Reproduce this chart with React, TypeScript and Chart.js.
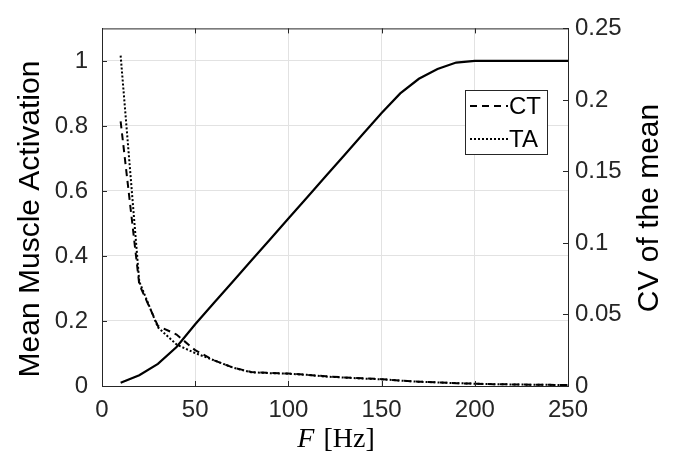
import React, { useEffect, useRef } from "react";
import { Chart, registerables } from "chart.js";

Chart.register(...registerables);

const frequencies = [10, 20, 30, 40, 50, 60, 70, 80, 90, 100, 110, 120, 130, 140, 150, 160, 170, 180, 190, 200, 210, 220, 230, 240, 250];
const meanActivation = [0.01, 0.033, 0.068, 0.12, 0.19, 0.255, 0.32, 0.385, 0.45, 0.515, 0.58, 0.645, 0.71, 0.775, 0.84, 0.9, 0.945, 0.975, 0.995, 1, 1, 1, 1, 1, 1];
const cvCT = [0.185, 0.071, 0.042, 0.036, 0.025, 0.018, 0.013, 0.0098, 0.0092, 0.0087, 0.0078, 0.0068, 0.006, 0.0054, 0.0048, 0.0038, 0.003, 0.0025, 0.002, 0.0016, 0.0013, 0.0011, 0.0009, 0.0008, 0.0007];
const cvTA = [0.231, 0.073, 0.041, 0.029, 0.023, 0.018, 0.013, 0.0096, 0.009, 0.0086, 0.0078, 0.0066, 0.0059, 0.0052, 0.0047, 0.0038, 0.003, 0.0025, 0.002, 0.0016, 0.0013, 0.0011, 0.0009, 0.0008, 0.0006];

const xTicks = [0, 50, 100, 150, 200, 250];
const leftTicks = [0, 0.2, 0.4, 0.6, 0.8, 1];
const rightTicks = [0, 0.05, 0.1, 0.15, 0.2, 0.25];
const leftLabels = ["0", "0.2", "0.4", "0.6", "0.8", "1"];
const rightLabels = ["0", "0.05", "0.1", "0.15", "0.2", "0.25"];

const seriesNames = ["Mean", "CT", "TA"];
const leftTitle = "Mean Muscle Activation";
const rightTitle = "CV of the mean";
const xTitleItalic = "F";
const xTitleRest = " [Hz]";

const AXIS = "#262626";
const GRID = "#e2e2e2";
const SANS = "'Liberation Sans', Arial, Helvetica, sans-serif";
const SERIF = "'Liberation Serif', 'Times New Roman', serif";

const decorPlugin = {
  id: "decor",
  afterDraw(chart: any) {
    const ctx = chart.ctx as CanvasRenderingContext2D;
    const area = chart.chartArea;
    const xs = chart.scales.x;
    const yl = chart.scales.yL;
    const yr = chart.scales.yR;
    ctx.save();
    // top border
    ctx.strokeStyle = AXIS;
    ctx.lineWidth = 1;
    ctx.beginPath();
    ctx.moveTo(area.left, area.top + 0.5);
    ctx.lineTo(area.right, area.top + 0.5);
    ctx.stroke();
    // inner ticks
    const tl = 5;
    ctx.beginPath();
    xTicks.forEach((v) => {
      const px = Math.round(xs.getPixelForValue(v)) + 0.5;
      ctx.moveTo(px, area.bottom);
      ctx.lineTo(px, area.bottom - tl);
      ctx.moveTo(px, area.top);
      ctx.lineTo(px, area.top + tl);
    });
    leftTicks.forEach((v) => {
      const py = Math.round(yl.getPixelForValue(v)) + 0.5;
      ctx.moveTo(area.left, py);
      ctx.lineTo(area.left + tl, py);
    });
    rightTicks.forEach((v) => {
      const py = Math.round(yr.getPixelForValue(v)) + 0.5;
      ctx.moveTo(area.right, py);
      ctx.lineTo(area.right - tl, py);
    });
    ctx.stroke();

    // legend
    const bx = 465.5, by = 90.5, bw = 82, bh = 64;
    ctx.fillStyle = "#ffffff";
    ctx.fillRect(bx, by, bw, bh);
    ctx.strokeStyle = AXIS;
    ctx.lineWidth = 1;
    ctx.strokeRect(bx, by, bw, bh);
    ctx.strokeStyle = "#000000";
    ctx.lineWidth = 2;
    ctx.setLineDash([7, 5]);
    ctx.beginPath();
    ctx.moveTo(470, 106);
    ctx.lineTo(508, 106);
    ctx.stroke();
    ctx.setLineDash([2, 2]);
    ctx.beginPath();
    ctx.moveTo(470, 139);
    ctx.lineTo(508, 139);
    ctx.stroke();
    ctx.setLineDash([]);
    ctx.fillStyle = "#000000";
    ctx.font = `24px ${SANS}`;
    ctx.textAlign = "left";
    ctx.textBaseline = "middle";
    ctx.fillText(seriesNames[1], 509, 107);
    ctx.fillText(seriesNames[2], 509, 140);

    // y titles
    ctx.font = `30px ${SANS}`;
    ctx.textAlign = "center";
    ctx.textBaseline = "middle";
    ctx.save();
    ctx.translate(31, 219);
    ctx.rotate(-Math.PI / 2);
    ctx.fillText(leftTitle, 0, 0);
    ctx.restore();
    ctx.save();
    ctx.translate(650, 208);
    ctx.rotate(-Math.PI / 2);
    ctx.fillText(rightTitle, 0, 0);
    ctx.restore();

    // x title
    ctx.textBaseline = "alphabetic";
    ctx.textAlign = "left";
    const fItal = `italic 28px ${SERIF}`;
    const fRom = `28px ${SERIF}`;
    ctx.font = fItal;
    const w1 = ctx.measureText(xTitleItalic).width;
    ctx.font = fRom;
    const w2 = ctx.measureText(xTitleRest).width;
    const cx = (area.left + area.right) / 2;
    const sx = cx - (w1 + w2) / 2;
    ctx.font = fItal;
    ctx.fillText(xTitleItalic, sx, 447);
    ctx.font = fRom;
    ctx.fillText(xTitleRest, sx + w1 + 2, 447);
    ctx.restore();
  },
};

export default function App() {
  const ref = useRef<HTMLCanvasElement | null>(null);
  useEffect(() => {
    if (!ref.current) return;
    const tickFont = { family: SANS, size: 24 };
    const chart = new Chart(ref.current, {
      type: "line",
      data: {
        datasets: [
          {
            label: seriesNames[0],
            data: frequencies.map((f, i) => ({ x: f, y: meanActivation[i] })),
            yAxisID: "yL",
            borderColor: "#000000",
            borderWidth: 2.2,
            pointRadius: 0,
            tension: 0,
          },
          {
            label: seriesNames[1],
            data: frequencies.map((f, i) => ({ x: f, y: cvCT[i] })),
            yAxisID: "yR",
            borderColor: "#000000",
            borderWidth: 2,
            borderDash: [7, 5],
            pointRadius: 0,
            tension: 0,
          },
          {
            label: seriesNames[2],
            data: frequencies.map((f, i) => ({ x: f, y: cvTA[i] })),
            yAxisID: "yR",
            borderColor: "#000000",
            borderWidth: 2,
            borderDash: [2, 2],
            pointRadius: 0,
            tension: 0,
          },
        ],
      },
      options: {
        responsive: false,
        animation: false,
        layout: { padding: { top: 19, left: 0, right: 0, bottom: 0 } },
        plugins: { legend: { display: false }, tooltip: { enabled: false } },
        scales: {
          x: {
            type: "linear",
            min: 0,
            max: 250,
            afterBuildTicks: (s: any) => {
              s.ticks = xTicks.map((v) => ({ value: v }));
            },
            afterFit: (s: any) => {
              s.height = 73;
            },
            ticks: {
              font: tickFont,
              color: AXIS,
              padding: 10,
              maxRotation: 0,
              callback: (v: any) => String(v),
            },
            grid: { color: GRID, drawTicks: false, lineWidth: 1 },
            border: { color: AXIS, width: 1 },
          },
          yL: {
            type: "linear",
            position: "left",
            min: 0,
            max: 1.1,
            afterBuildTicks: (s: any) => {
              s.ticks = leftTicks.map((v) => ({ value: v }));
            },
            afterFit: (s: any) => {
              s.width = 102;
            },
            ticks: {
              font: tickFont,
              color: AXIS,
              padding: 14,
              callback: (v: any, i: number) => leftLabels[i],
            },
            grid: { color: GRID, drawTicks: false, lineWidth: 1 },
            border: { color: AXIS, width: 1 },
          },
          yR: {
            type: "linear",
            position: "right",
            min: 0,
            max: 0.25,
            afterBuildTicks: (s: any) => {
              s.ticks = rightTicks.map((v) => ({ value: v }));
            },
            afterFit: (s: any) => {
              s.width = 123;
            },
            ticks: {
              font: tickFont,
              color: AXIS,
              padding: 7,
              callback: (v: any, i: number) => rightLabels[i],
            },
            grid: { display: false, drawTicks: false },
            border: { color: AXIS, width: 1 },
          },
        },
      },
      plugins: [decorPlugin],
    } as any);
    return () => chart.destroy();
  }, []);
  return (
    <div style={{ position: "fixed", left: 0, top: 0, width: 691, height: 459, background: "#ffffff" }}>
      <canvas ref={ref} width={691} height={459} style={{ display: "block" }} />
    </div>
  );
}
